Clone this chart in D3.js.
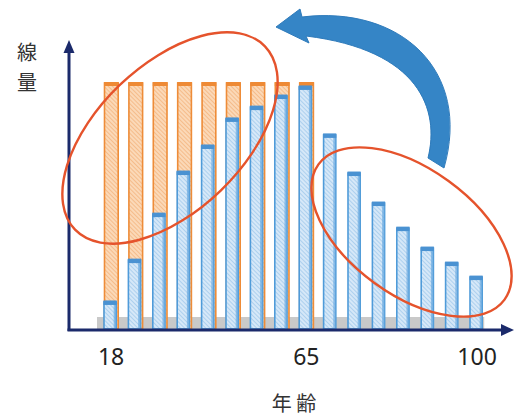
<!DOCTYPE html>
<html><head><meta charset="utf-8">
<script src="https://cdn.jsdelivr.net/npm/d3@7"></script>
<style>
html,body{margin:0;padding:0;background:#fff;}
svg{display:block;}
</style></head>
<body>
<svg id="chart" width="522" height="420"></svg>
<script>
// ---- data ----
const categories = [18, 24, 30, 36, 42, 48, 54, 60, 65, 70, 75, 80, 85, 90, 95, 100];
const blueValues = [11, 28, 46.7, 63.8, 74.4, 85.4, 90.2, 94.7, 98.4, 78.9, 63.4, 51.2, 41, 32.9, 26.8, 21.1];
const orangeCategories = [18, 24, 30, 36, 42, 48, 54, 60, 65];
const orangeValues = [100, 100, 100, 100, 100, 100, 100, 100, 100];
const tickLabels = [18, 65, 100];
const xTitle = "年 齢";
const yTitle = ["線", "量"];

const svg = d3.select("#chart");
const defs = svg.append("defs");

function hatch(id, bg, line) {
  const p = defs.append("pattern").attr("id", id).attr("patternUnits", "userSpaceOnUse")
    .attr("width", 3).attr("height", 3).attr("patternTransform", "rotate(-45)");
  p.append("rect").attr("width", 3).attr("height", 3).attr("fill", bg);
  p.append("line").attr("x1", 0).attr("y1", 0).attr("x2", 0).attr("y2", 3)
    .attr("stroke", line).attr("stroke-width", 1.1);
}
hatch("hBlue", "#d6e8f8", "#8cbce6");
hatch("hOrange", "#fbd9b8", "#f1a466");

const x = d3.scaleBand().domain(categories).range([97.9, 488.3]).paddingInner(0.5).paddingOuter(0.25);
const y = d3.scaleLinear().domain([0, 100]).range([329, 83]);
const bw = x.bandwidth();

// gray base band
svg.append("rect").attr("x", x(categories[0]) - 7).attr("y", 317)
  .attr("width", x(categories[categories.length - 1]) + bw + 2 - (x(categories[0]) - 7))
  .attr("height", 12).attr("fill", "#c9c9c9");

// orange bars (behind)
const og = svg.append("g");
orangeCategories.forEach((c, i) => {
  const x0 = x(c) + 0.5, w = bw + 1.5, top = y(orangeValues[i]);
  og.append("rect").attr("x", x0).attr("y", top).attr("width", w).attr("height", y(0) - top)
    .attr("fill", "url(#hOrange)").attr("stroke", "#ee8c38").attr("stroke-width", 1.6);
  og.append("rect").attr("x", x0 - 0.5).attr("y", top - 1).attr("width", w + 1).attr("height", 4)
    .attr("fill", "#ee8a35");
});

// blue bars
const bg = svg.append("g");
categories.forEach((c, i) => {
  const x0 = x(c), top = y(blueValues[i]);
  bg.append("rect").attr("x", x0).attr("y", top).attr("width", bw).attr("height", y(0) - top)
    .attr("fill", "url(#hBlue)").attr("stroke", "#4f9bd9").attr("stroke-width", 1.6);
  bg.append("rect").attr("x", x0 + bw - 2.5).attr("y", top).attr("width", 2.5).attr("height", y(0) - top)
    .attr("fill", "#6aaae0").attr("opacity", 0.7);
  bg.append("rect").attr("x", x0 - 0.5).attr("y", top - 1.5).attr("width", bw + 1).attr("height", 4.5)
    .attr("fill", "#4a92d2");
});

// axes
const axisColor = "#1b2a6b";
svg.append("line").attr("x1", 69).attr("y1", 331).attr("x2", 69).attr("y2", 50)
  .attr("stroke", axisColor).attr("stroke-width", 3);
svg.append("path").attr("d", "M69,40 L63.5,53 L74.5,53 Z").attr("fill", axisColor);
svg.append("line").attr("x1", 67.5).attr("y1", 330).attr("x2", 503).attr("y2", 330)
  .attr("stroke", axisColor).attr("stroke-width", 3);
svg.append("path").attr("d", "M514,330 L501,324 L501,336 Z").attr("fill", axisColor);

// tick labels
const tickG = svg.append("g").attr("font-family", "'Noto Sans','Open Sans',sans-serif")
  .attr("font-size", 23).attr("fill", "#222").attr("text-anchor", "middle");
tickLabels.forEach(t => {
  tickG.append("text").attr("x", x(t) + bw / 2 + 1).attr("y", 365).text(t);
});

// titles
svg.append("text").attr("x", 294).attr("y", 411).attr("text-anchor", "middle")
  .attr("font-family", "'Noto Sans CJK JP',sans-serif").attr("font-size", 20).attr("fill", "#333")
  .text(xTitle);
yTitle.forEach((ch, i) => {
  svg.append("text").attr("x", 27).attr("y", 60 + i * 30).attr("text-anchor", "middle")
    .attr("font-family", "'Noto Sans CJK JP',sans-serif").attr("font-size", 20).attr("fill", "#333")
    .text(ch);
});

// ellipses
svg.append("ellipse").attr("cx", 0).attr("cy", 0).attr("rx", 132).attr("ry", 73)
  .attr("transform", "translate(170,138) rotate(-44)")
  .attr("fill", "none").attr("stroke", "#e5532c").attr("stroke-width", 2.4);
svg.append("ellipse").attr("cx", 0).attr("cy", 0).attr("rx", 115).attr("ry", 63)
  .attr("transform", "translate(411.5,232) rotate(36)")
  .attr("fill", "none").attr("stroke", "#e5532c").attr("stroke-width", 2.4);

// curved arrow
svg.append("path")
  .attr("d", "M428,158 C440,110 420,50 306,36 L309,43 L276,27 L300,9 L302,17 C400,5 472,70 444,168 Z")
  .attr("fill", "#3585c6").attr("stroke", "#2f7bbb").attr("stroke-width", 1);
</script>
</body></html>
